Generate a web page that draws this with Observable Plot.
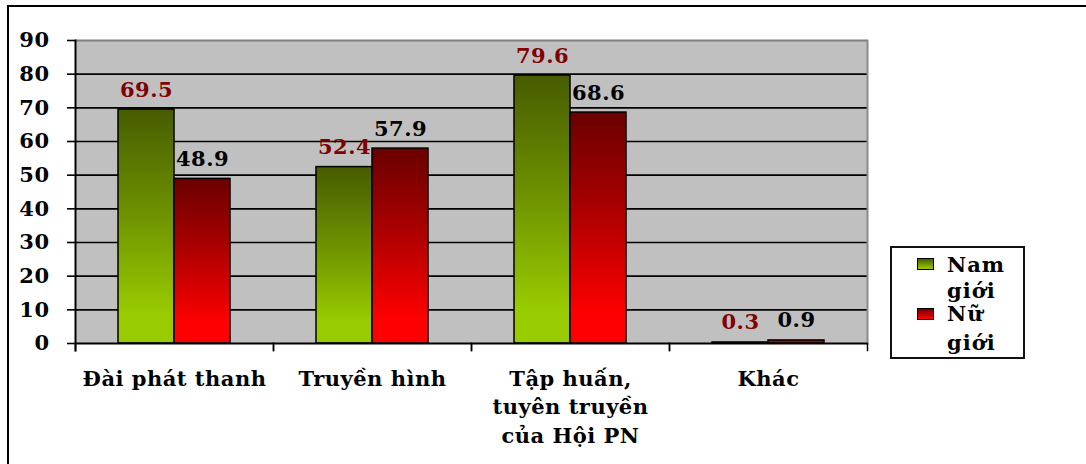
<!DOCTYPE html>
<html>
<head>
<meta charset="utf-8">
<script src="https://cdn.jsdelivr.net/npm/d3@7"></script>
<script src="https://cdn.jsdelivr.net/npm/@observablehq/plot@0.6"></script>
<style>
  html, body { margin: 0; padding: 0; background: white; overflow: hidden; }
  #wrap { position: relative; width: 1086px; height: 464px; overflow: hidden; }
  #border { position: absolute; left: 7px; top: 5px; width: 1200px; height: 600px;
            border-top: 2px solid black; border-left: 2px solid black; pointer-events: none; }
  #legend { position: absolute; left: 890px; top: 246px; width: 131px; height: 109px;
            border: 2px solid #111; background: white;
            font-family: "DejaVu Serif", serif; font-weight: bold; font-size: 21px;
            letter-spacing: 1px; color: black; }
  .sw { position: absolute; left: 25px; width: 15px; height: 10px; border: 1px solid black; }
  .lab { position: absolute; left: 55px; line-height: 21px; height: 21px; white-space: nowrap; }
</style>
</head>
<body>
<div id="wrap">
  <div id="chart"></div>
  <div id="border"></div>
  <div id="legend"></div>
</div>
<script>
const categories = ["Đài phát thanh", "Truyền hình", "Tập huấn,\ntuyên truyền\ncủa Hội PN", "Khác"];
const series = ["Nam giới", "Nữ giới"];
const namValues = [69.5, 52.4, 79.6, 0.3];
const nuValues = [48.9, 57.9, 68.6, 0.9];
const yTicks = [0, 10, 20, 30, 40, 50, 60, 70, 80, 90];
const barFills = ["url(#gNam)", "url(#gNu)"];
const labelColors = ["#800000", "#000000"];
const legendLines = [["Nam", "giới"], ["Nữ", "giới"]];

const data = [];
categories.forEach((c, i) => {
  data.push({category: c, series: series[0], value: namValues[i]});
  data.push({category: c, series: series[1], value: nuValues[i]});
});
const sIdx = d => series.indexOf(d.series);

const chart = Plot.plot({
  width: 1086,
  height: 464,
  marginLeft: 74,
  marginRight: 219,
  marginTop: 40,
  marginBottom: 121,
  style: {fontFamily: "'DejaVu Serif', serif", fontWeight: "bold", fontSize: "21px", letterSpacing: "0.5px", color: "black", background: "transparent", overflow: "visible"},
  fx: {domain: categories, padding: 0, axis: null},
  x: {domain: series, axis: null, paddingInner: 0, paddingOuter: 0.74},
  y: {domain: [0, 90]},
  color: {type: "identity"},
  marks: [
    Plot.frame({fill: "#c0c0c0", facet: "super"}),
    Plot.ruleY(yTicks.filter(t => t > 0 && t < 90), {stroke: "black", strokeWidth: 1.6}),
    Plot.ruleY([90], {stroke: "#7f7f7f", strokeWidth: 2}),
    Plot.frame({anchor: "right", stroke: "#8a8a8a", strokeWidth: 2, facet: "super"}),
    Plot.barY(data, {fx: "category", x: "series", y: "value", fill: d => barFills[sIdx(d)], stroke: "black", strokeWidth: 1.5}),
    Plot.text(data, {fx: "category", x: "series", y: "value", text: d => d.value.toFixed(1),
      fill: d => labelColors[sIdx(d)], lineAnchor: "bottom", dy: -13, fontSize: 21, fontWeight: "bold"}),
    Plot.ruleY([0], {stroke: "black", strokeWidth: 2}),
    Plot.frame({anchor: "left", stroke: "black", strokeWidth: 2, facet: "super", insetBottom: -7}),
    Plot.frame({anchor: "left", stroke: "black", strokeWidth: 1.5, insetTop: 303, insetBottom: -7}),
    Plot.frame({anchor: "right", stroke: "black", strokeWidth: 1.5, insetTop: 303, insetBottom: -7}),
    Plot.axisY({ticks: yTicks, tickSize: 8, tickPadding: 18, fontSize: 21, fontWeight: "bold", strokeWidth: 1.6, label: null}),
    Plot.text(categories, {fx: d => d, text: d => d, frameAnchor: "bottom", lineAnchor: "top", dy: 22, lineHeight: 1.36, fontSize: 21, fontWeight: "bold", fill: "black"})
  ]
});

const svg = d3.select(chart.tagName.toLowerCase() === "svg" ? chart : chart.querySelector("svg"));
const defs = svg.insert("defs", ":first-child");
function grad(id, top, mid, bottom) {
  const g = defs.append("linearGradient").attr("id", id).attr("x1", 0).attr("y1", 0).attr("x2", 0).attr("y2", 1);
  g.append("stop").attr("offset", "0%").attr("stop-color", top);
  g.append("stop").attr("offset", "45%").attr("stop-color", mid);
  g.append("stop").attr("offset", "88%").attr("stop-color", bottom);
  g.append("stop").attr("offset", "100%").attr("stop-color", bottom);
}
grad("gNam", "#475c00", "#6e9200", "#99cc00");
grad("gNu", "#6a0000", "#b00000", "#ff0000");
document.getElementById("chart").appendChild(chart);

const legend = document.getElementById("legend");
const swTops = [10, 60];
const lineTops = [[6, 32], [55, 84]];
const cssGrads = ["linear-gradient(#4a6000, #99cc00)", "linear-gradient(#700000, #ff0000)"];
series.forEach((s, i) => {
  const sw = document.createElement("div");
  sw.className = "sw";
  sw.style.top = swTops[i] + "px";
  sw.style.background = cssGrads[i];
  legend.appendChild(sw);
  legendLines[i].forEach((t, j) => {
    const lab = document.createElement("div");
    lab.className = "lab";
    lab.style.top = lineTops[i][j] + "px";
    lab.textContent = t;
    legend.appendChild(lab);
  });
});
</script>
</body>
</html>
